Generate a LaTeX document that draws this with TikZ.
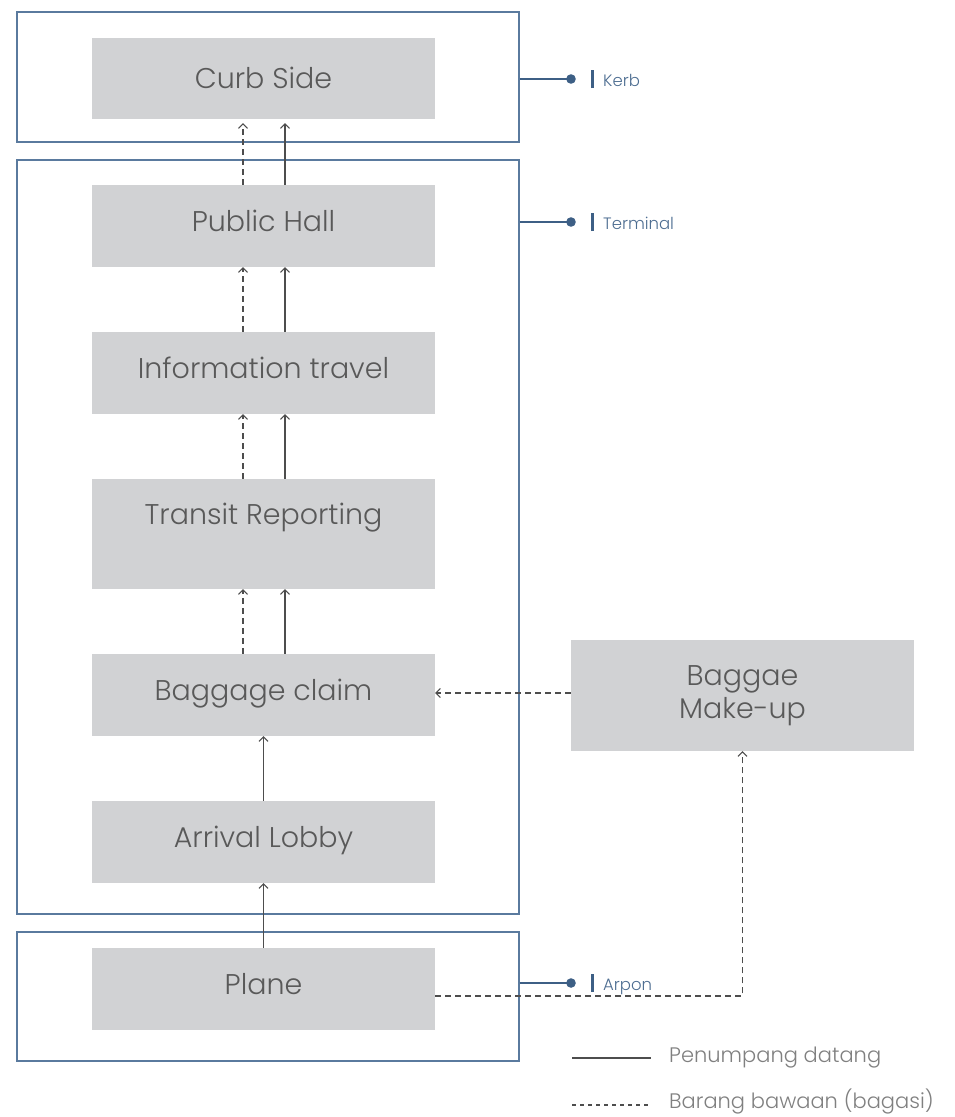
\documentclass[tikz,border=0pt]{standalone}
\usepackage{fontspec}
\setmainfont{Poppins Light}
\usetikzlibrary{arrows.meta}
\definecolor{boxfill}{HTML}{D1D2D4}
\definecolor{boxtext}{HTML}{595959}
\definecolor{framecol}{HTML}{5A7A9E}
\definecolor{labcol}{HTML}{3D5F85}
\definecolor{labtextcol}{HTML}{4D6D91}
\definecolor{arrcol}{HTML}{4D4D4D}
\definecolor{legtext}{HTML}{808080}
\tikzset{
  frame/.style={draw=framecol, line width=1.1pt, rectangle, inner sep=0pt, minimum width=502pt},
  boxbase/.style={rectangle, fill=boxfill, inner sep=0pt, text=boxtext, align=center,
    minimum width=343pt, font=\fontsize{28.5}{33}\selectfont},
  box/.style={boxbase, text height=20pt, text depth=10pt},
  tip/.style={-{Straight Barb[length=4.5pt,width=9pt,line width=1pt]}},
  solidarr/.style={tip, draw=arrcol, line width=1.2pt},
  dasharr/.style={tip, draw=arrcol, line width=1.2pt, dash pattern=on 6pt off 4pt},
  labline/.style={draw=labcol, line width=1.2pt},
  labdot/.style={fill=labcol},
  labbar/.style={draw=labcol, line width=3pt},
  labtext/.style={anchor=base west, inner sep=0pt, text=labtextcol, font=\fontsize{16.5}{20}\selectfont},
  legline/.style={draw=arrcol, line width=1.2pt},
  legdash/.style={draw=arrcol, line width=1.2pt, dash pattern=on 4pt off 4pt},
  legtxt/.style={anchor=base west, inner sep=0pt, text=legtext, font=\fontsize{21}{25}\selectfont}
}
\begin{document}
\begin{tikzpicture}[x=1pt,y=-1pt]
\useasboundingbox (0,0) rectangle (955,1117);
% frames
\node[frame, minimum height=130pt] (kerbframe) at (268,77) {};
\node[frame, minimum height=754pt] (termframe) at (268,537) {};
\node[frame, minimum height=129pt] (planeframe) at (268,996.5) {};
% boxes
\node[box, minimum height=81pt, text depth=0pt] (curb) at (263.5,78.5) {Curb Side};
\node[box, minimum height=82pt] (public) at (263.5,226) {Public Hall};
\node[box, minimum height=82pt] (info) at (263.5,373) {Information travel};
\node[box, minimum height=110pt, text depth=40pt] (transit) at (263.5,534) {Transit Reporting};
\node[box, minimum height=82pt] (claim) at (263.5,695) {Baggage claim};
\node[box, minimum height=82pt] (lobby) at (263.5,842) {Arrival Lobby};
\node[box, minimum height=82pt] (plane) at (263.5,989) {Plane};
\node[boxbase, minimum height=111pt] (makeup) at (742.5,695.5) {Baggae\\Make-up};
% helper coordinates
\coordinate (dx) at (243,0);
\coordinate (sx) at (285,0);
\coordinate (bagy) at (0,693);
\coordinate (ply) at (0,996);
% paired arrows
\draw[dasharr, shorten >=4pt] (public.north -| dx) -- (curb.south -| dx);
\draw[solidarr, shorten >=4pt] (public.north -| sx) -- (curb.south -| sx);
\draw[dasharr] (info.north -| dx) -- (public.south -| dx);
\draw[solidarr] (info.north -| sx) -- (public.south -| sx);
\draw[dasharr] (transit.north -| dx) -- (info.south -| dx);
\draw[solidarr] (transit.north -| sx) -- (info.south -| sx);
\draw[dasharr] (claim.north -| dx) -- (transit.south -| dx);
\draw[solidarr] (claim.north -| sx) -- (transit.south -| sx);
% single arrows
\draw[solidarr] (lobby.north) -- (claim.south);
\draw[solidarr] (plane.north) -- (lobby.south);
\draw[dasharr] (makeup.west |- bagy) -- (claim.east |- bagy);
\draw[dasharr] (plane.east |- ply) -| (makeup.south);
% side labels
\coordinate (kerbdot) at (571,79);
\coordinate (termdot) at (571,222);
\coordinate (arpdot) at (571,983);
\draw[labline] (kerbframe.east |- kerbdot) -- (kerbdot);
\draw[labline] (termframe.east |- termdot) -- (termdot);
\draw[labline] (planeframe.east |- arpdot) -- (arpdot);
\fill[labdot] (kerbdot) circle (4.8pt);
\fill[labdot] (termdot) circle (4.8pt);
\fill[labdot] (arpdot) circle (4.8pt);
\node[labtext] (kerbtxt) at (603,86) {Kerb};
\node[labtext] (termtxt) at (603,229) {Terminal};
\node[labtext] (arptxt) at (603,990) {Arpon};
\draw[labbar] ([xshift=-11pt,yshift=-2pt]kerbtxt.base west) -- ([xshift=-11pt,yshift=16pt]kerbtxt.base west);
\draw[labbar] ([xshift=-11pt,yshift=-2pt]termtxt.base west) -- ([xshift=-11pt,yshift=16pt]termtxt.base west);
\draw[labbar] ([xshift=-11pt,yshift=-2pt]arptxt.base west) -- ([xshift=-11pt,yshift=16pt]arptxt.base west);
% legend
\coordinate (l1a) at (572,1058);
\coordinate (l1b) at (651,1058);
\coordinate (l2a) at (572,1105);
\coordinate (l2b) at (651,1105);
\draw[legline] (l1a) -- (l1b);
\draw[legdash] (l2a) -- (l2b);
\node[legtxt] (leg1) at (669,1062) {Penumpang datang};
\node[legtxt] (leg2) at (669,1108) {Barang bawaan (bagasi)};
\end{tikzpicture}
\end{document}
